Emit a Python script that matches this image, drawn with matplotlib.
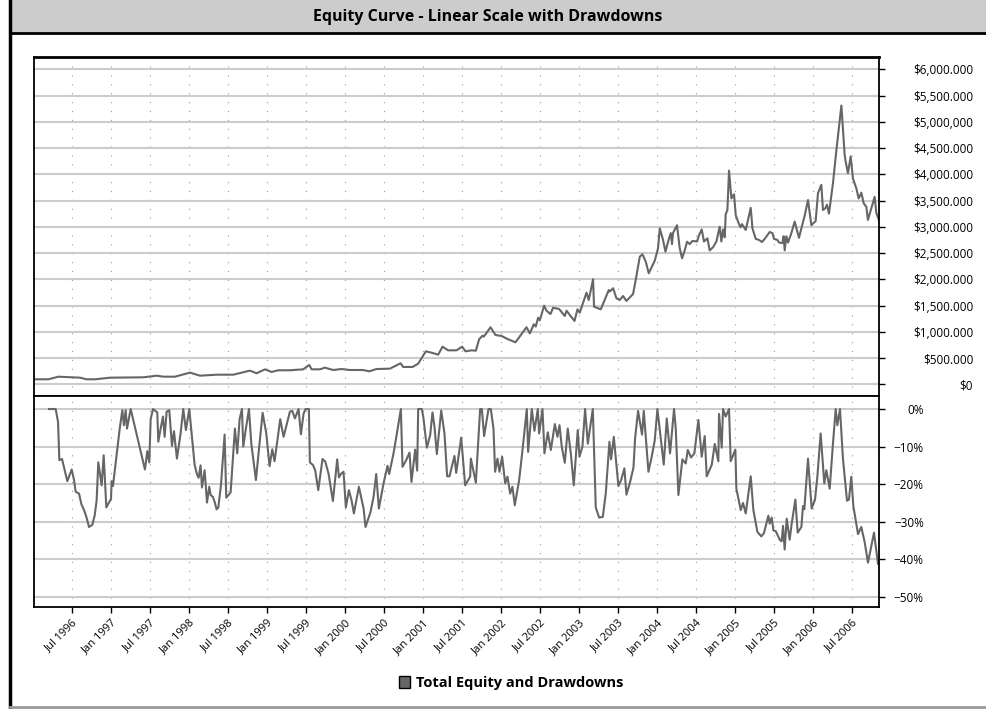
import numpy as np
import pandas as pd
import matplotlib
matplotlib.use('Agg')
import matplotlib.pyplot as plt
from matplotlib.patches import Rectangle, Patch
from matplotlib.lines import Line2D

plt.rcParams['font.family'] = ['Open Sans', 'DejaVu Sans']

# equity curve: decimal year, total equity in $ thousands
eq_t = [1996.015, 1996.199, 1996.327, 1996.605, 1996.690, 1996.797, 1996.989, 1997.416, 1997.587, 1997.672,
        1997.822, 1998.014, 1998.142, 1998.356, 1998.569, 1998.782, 1998.868, 1998.975, 1999.060, 1999.145,
        1999.295, 1999.465, 1999.542, 1999.573, 1999.679, 1999.743, 1999.850, 1999.957, 2000.064, 2000.234,
        2000.311, 2000.406, 2000.576, 2000.713, 2000.746, 2000.867, 2000.939, 2001.037, 2001.110, 2001.195,
        2001.251, 2001.323, 2001.430, 2001.502, 2001.546, 2001.623, 2001.678, 2001.720, 2001.764, 2001.780,
        2001.866, 2001.930, 2002.007, 2002.092, 2002.186, 2002.327, 2002.370, 2002.421, 2002.446, 2002.476,
        2002.498, 2002.553, 2002.583, 2002.635, 2002.668, 2002.745, 2002.818, 2002.840, 2002.942, 2002.981,
        2003.010, 2003.096, 2003.125, 2003.180, 2003.193, 2003.279, 2003.382, 2003.394, 2003.437, 2003.480,
        2003.522, 2003.565, 2003.608, 2003.693, 2003.727, 2003.779, 2003.813, 2003.856, 2003.894, 2003.971,
        2004.013, 2004.035, 2004.077, 2004.108, 2004.150, 2004.176, 2004.192, 2004.205, 2004.256, 2004.291,
        2004.321, 2004.355, 2004.385, 2004.419, 2004.454, 2004.513, 2004.538, 2004.573, 2004.602, 2004.646,
        2004.675, 2004.718, 2004.761, 2004.803, 2004.825, 2004.846, 2004.868, 2004.880, 2004.902, 2004.923,
        2004.953, 2004.987, 2005.009, 2005.038, 2005.069, 2005.089, 2005.137, 2005.166, 2005.201, 2005.223,
        2005.265, 2005.307, 2005.345, 2005.380, 2005.444, 2005.479, 2005.499, 2005.543, 2005.563, 2005.607,
        2005.623, 2005.636, 2005.658, 2005.679, 2005.722, 2005.764, 2005.819, 2005.892, 2005.935, 2005.978,
        2006.033, 2006.063, 2006.106, 2006.127, 2006.161, 2006.178, 2006.204, 2006.255, 2006.299, 2006.363,
        2006.405, 2006.418, 2006.447, 2006.482, 2006.511, 2006.555, 2006.584, 2006.619, 2006.648, 2006.683,
        2006.703, 2006.789, 2006.811, 2006.844]
eq_k = [95, 95, 145, 126, 95, 95, 126, 133, 164, 145,
        145, 222, 164, 183, 183, 260, 210, 285, 235, 267,
        267, 285, 368, 285, 285, 317, 272, 291, 272, 272,
        247, 291, 298, 400, 330, 330, 393, 628, 602, 564,
        716, 647, 647, 716, 628, 647, 640, 857, 926, 907,
        1086, 939, 920, 857, 800, 1086, 971, 1143, 1100, 1269,
        1220, 1497, 1402, 1339, 1459, 1434, 1301, 1402, 1206, 1428,
        1364, 1745, 1605, 2000, 1478, 1428, 1796, 1765, 1829, 1638,
        1606, 1682, 1587, 1720, 1987, 2430, 2476, 2335, 2114, 2355,
        2590, 2970, 2750, 2526, 2760, 2880, 2670, 2880, 3030, 2590,
        2400, 2550, 2716, 2670, 2730, 2720, 2840, 2950, 2720, 2780,
        2550, 2610, 2720, 3000, 2720, 2950, 2800, 3240, 3320, 4070,
        3540, 3620, 3220, 3100, 2990, 3050, 2940, 3130, 3360, 2970,
        2770, 2750, 2710, 2770, 2900, 2880, 2770, 2750, 2700, 2690,
        2820, 2550, 2820, 2700, 2880, 3100, 2790, 3210, 3510, 3030,
        3110, 3640, 3800, 3320, 3360, 3420, 3250, 3830, 4460, 5310,
        4370, 4240, 4020, 4340, 3920, 3730, 3540, 3650, 3450, 3380,
        3130, 3570, 3260, 3130]

# drawdown: decimal year, percent below running peak
dd_t = [1996.207, 1996.293, 1996.323, 1996.340, 1996.374, 1996.442, 1996.498, 1996.528, 1996.549, 1996.592,
        1996.622, 1996.656, 1996.686, 1996.720, 1996.763, 1996.793, 1996.818, 1996.839, 1996.882, 1996.908,
        1996.942, 1997.002, 1997.010, 1997.027, 1997.113, 1997.147, 1997.168, 1997.190, 1997.207, 1997.254,
        1997.437, 1997.467, 1997.493, 1997.510, 1997.540, 1997.595, 1997.608, 1997.638, 1997.668, 1997.689,
        1997.715, 1997.749, 1997.783, 1997.809, 1997.847, 1997.894, 1997.928, 1997.962, 1998.005, 1998.044,
        1998.074, 1998.103, 1998.125, 1998.150, 1998.168, 1998.202, 1998.232, 1998.261, 1998.279, 1998.308,
        1998.330, 1998.355, 1998.377, 1998.411, 1998.458, 1998.479, 1998.535, 1998.590, 1998.620, 1998.650,
        1998.680, 1998.697, 1998.731, 1998.770, 1998.800, 1998.859, 1998.945, 1998.992, 1999.034, 1999.069,
        1999.098, 1999.171, 1999.214, 1999.252, 1999.295, 1999.325, 1999.359, 1999.406, 1999.436, 1999.470,
        1999.496, 1999.538, 1999.551, 1999.590, 1999.619, 1999.658, 1999.713, 1999.748, 1999.790, 1999.846,
        1999.901, 1999.923, 1999.952, 1999.982, 2000.012, 2000.051, 2000.085, 2000.115, 2000.179, 2000.239,
        2000.264, 2000.328, 2000.367, 2000.401, 2000.435, 2000.495, 2000.546, 2000.567, 2000.623, 2000.666,
        2000.717, 2000.738, 2000.785, 2000.828, 2000.853, 2000.900, 2000.926, 2000.939, 2000.986, 2001.007,
        2001.050, 2001.093, 2001.122, 2001.148, 2001.178, 2001.234, 2001.276, 2001.310, 2001.340, 2001.404,
        2001.426, 2001.490, 2001.541, 2001.605, 2001.614, 2001.678, 2001.733, 2001.755, 2001.784, 2001.840,
        2001.870, 2001.904, 2001.925, 2001.955, 2001.981, 2002.015, 2002.054, 2002.083, 2002.118, 2002.147,
        2002.177, 2002.233, 2002.276, 2002.331, 2002.348, 2002.395, 2002.429, 2002.472, 2002.489, 2002.532,
        2002.557, 2002.600, 2002.639, 2002.690, 2002.724, 2002.750, 2002.779, 2002.818, 2002.856, 2002.895,
        2002.933, 2002.984, 2003.006, 2003.044, 2003.078, 2003.113, 2003.177, 2003.215, 2003.258, 2003.305,
        2003.343, 2003.390, 2003.411, 2003.446, 2003.505, 2003.540, 2003.582, 2003.608, 2003.655, 2003.698,
        2003.719, 2003.757, 2003.808, 2003.830, 2003.890, 2003.932, 2003.971, 2004.005, 2004.086, 2004.125,
        2004.167, 2004.218, 2004.240, 2004.274, 2004.325, 2004.368, 2004.394, 2004.436, 2004.479, 2004.530,
        2004.573, 2004.611, 2004.637, 2004.701, 2004.740, 2004.786, 2004.795, 2004.829, 2004.846, 2004.880,
        2004.923, 2004.944, 2005.004, 2005.017, 2005.073, 2005.102, 2005.137, 2005.201, 2005.235, 2005.286,
        2005.337, 2005.371, 2005.427, 2005.444, 2005.470, 2005.491, 2005.521, 2005.576, 2005.598, 2005.615,
        2005.636, 2005.662, 2005.700, 2005.726, 2005.773, 2005.803, 2005.850, 2005.871, 2005.888, 2005.935,
        2005.982, 2006.025, 2006.055, 2006.097, 2006.144, 2006.170, 2006.213, 2006.255, 2006.290, 2006.311,
        2006.345, 2006.383, 2006.435, 2006.460, 2006.490, 2006.516, 2006.576, 2006.618, 2006.661, 2006.704,
        2006.781, 2006.832]
dd_pct = [0, 0, -3.4, -13.6, -13.3, -19.2, -16.1, -18.9, -22.0, -22.5,
          -25.3, -26.9, -28.7, -31.4, -30.8, -28.3, -24.3, -14.2, -20.3, -12.3,
          -26.2, -23.9, -19.2, -20.5, -5.3, -0.3, -4.3, -0.3, -5.2, 0,
          -16.1, -11.2, -14.2, -2.7, 0, -0.9, -8.7, -5.2, -2.0, -7.4,
          -0.7, -0.3, -9.8, -5.9, -13.2, -6.5, 0, -5.6, 0, -8.3,
          -14.9, -17.3, -18.3, -15.0, -20.9, -16.3, -24.9, -20.7, -22.9, -23.4,
          -24.7, -26.7, -26.2, -20.3, -6.8, -23.6, -22.2, -5.2, -11.8, -2.7,
          0, -10.0, -5.2, 0, -9.2, -18.9, -1.0, -6.5, -15.2, -10.7,
          -13.9, -2.7, -7.4, -4.3, -0.7, -0.5, -2.5, 0, -6.7, -1.2,
          0, 0, -14.2, -14.9, -16.3, -21.6, -13.3, -14.0, -17.2, -24.5,
          -13.4, -18.2, -17.2, -16.7, -26.2, -21.6, -24.3, -27.8, -20.7, -26.5,
          -31.4, -27.4, -23.4, -17.3, -26.5, -19.8, -15.1, -17.3, -11.8, -6.5,
          0, -15.4, -13.6, -11.6, -19.4, -10.8, -16.4, 0, 0, -2.5,
          -10.3, -6.9, -0.9, -4.7, -12.0, -0.4, -6.5, -17.9, -17.9, -12.5,
          -17.0, -7.6, -20.3, -18.0, -13.2, -19.6, 0, 0, -7.2, 0,
          0, -5.2, -16.7, -13.2, -16.7, -12.7, -19.8, -18.0, -22.5, -20.7,
          -25.6, -18.9, -10.9, 0, -11.4, 0, -5.8, 0, -6.5, 0,
          -11.8, -6.2, -10.9, -4.0, -7.4, -4.3, -10.0, -14.3, -5.2, -11.8,
          -20.3, -5.6, -12.7, -10.0, 0, -9.2, 0, -26.2, -28.9, -28.7,
          -22.5, -8.7, -13.4, -7.4, -20.5, -18.9, -15.8, -22.8, -19.4, -15.6,
          -7.8, -0.5, -6.8, -0.5, -16.7, -12.7, -8.3, 0, -14.8, -2.5,
          -11.8, 0, -5.2, -22.9, -13.4, -14.5, -10.9, -12.9, -11.8, -2.9,
          -12.7, -7.2, -17.9, -14.9, -9.3, -13.9, -1.3, -10.3, 0, -2.0,
          0, -13.9, -10.8, -21.2, -26.9, -25.0, -27.8, -17.9, -26.9, -32.7,
          -33.9, -33.0, -28.4, -30.5, -28.9, -32.3, -32.5, -34.9, -35.2, -31.1,
          -37.4, -29.2, -34.8, -30.5, -24.1, -32.9, -31.4, -25.8, -26.7, -13.2,
          -26.5, -24.1, -18.0, -6.5, -19.8, -16.3, -21.2, -9.2, 0, -4.3,
          0, -13.2, -24.4, -24.1, -18.0, -25.8, -33.3, -31.4, -35.4, -40.9,
          -32.9, -41.2]

eq_ticks = list(range(0, 6500000, 500000))
eq_labels = ['$0', '$500.000', '$1,000.000', '$1,500.000', '$2,000.000', '$2,500.000', '$3,000.000',
             '$3,500.000', '$4,000.000', '$4,500.000', '$5,000,000', '$5,500.000', '$6,000.000']
dd_ticks = [0, -10, -20, -30, -40, -50]
dd_labels = ['0%', '\u221210%', '\u221220%', '\u221230%', '\u221240%', '\u221250%']
x_ticks = pd.date_range('1996-07-01', '2006-07-01', freq='6MS')
x_labels = [d.strftime('%b %Y') for d in x_ticks]

title = 'Equity Curve - Linear Scale with Drawdowns'
series_name = 'Total Equity and Drawdowns'
line_color = '#666666'


def to_dates(t):
    t = np.asarray(t, dtype=float)
    return pd.Timestamp('1996-01-01') + pd.to_timedelta((t - 1996) * 365.25, unit='D')


W, H = 986, 709
fig = plt.figure(figsize=(W / 100, H / 100), dpi=100)

# frame decorations
fig.patches.append(Rectangle((10 / W, 1 - 33 / H), 1 - 10 / W, 33 / H, transform=fig.transFigure,
                             facecolor='#cccccc', edgecolor='none', zorder=0))
fig.add_artist(Line2D([10 / W, 1], [1 - 33 / H, 1 - 33 / H], color='black', lw=2))
fig.add_artist(Line2D([10 / W, 10 / W], [0, 1], color='black', lw=2.5))
fig.add_artist(Line2D([10 / W, 1], [2 / H, 2 / H], color='#999999', lw=2))
fig.text(0.495, 1 - 17 / H, title, ha='center', va='center', fontsize=11.5, fontweight='bold')

left, right = 34 / W, 879 / W
ax1 = fig.add_axes([left, 1 - 396 / H, right - left, 339 / H])
ax2 = fig.add_axes([left, 1 - 607 / H, right - left, 211 / H], sharex=ax1)

ax1.plot(to_dates(eq_t), np.array(eq_k) * 1000, color=line_color, lw=1.5)
ax2.plot(to_dates(dd_t), dd_pct, color=line_color, lw=1.5)

xlim = to_dates([1996.015, 2006.845])
ax1.set_xlim(xlim[0], xlim[1])
ax1.set_ylim(-223000, 6234000)
ax2.set_ylim(-52.7, 3.47)

for ax in (ax1, ax2):
    ax.set_axisbelow(True)
    ax.yaxis.grid(True, color='#cccccc', lw=1.5)
    ax.xaxis.grid(True, color='#999999', lw=0.8, ls=(0, (1, 7)))
    for s in ax.spines.values():
        s.set_linewidth(1.3)
        s.set_color('black')
    ax.yaxis.tick_right()

ax1.spines['top'].set_linewidth(2)

ax1.set_xticks(x_ticks)
ax1.tick_params(axis='x', length=0, labelbottom=False)
ax1.set_yticks(eq_ticks)
ax1.set_yticklabels(eq_labels, ha='right')
ax1.tick_params(axis='y', length=4.3, width=1, pad=63.5, labelsize=8.5)

ax2.set_yticks(dd_ticks)
ax2.set_yticklabels(dd_labels, ha='right')
ax2.tick_params(axis='y', length=4.3, width=1, pad=28, labelsize=8.5)
ax2.set_xticks(x_ticks)
ax2.set_xticklabels(x_labels, rotation=45, ha='right', rotation_mode='anchor')
ax2.tick_params(axis='x', length=4.3, width=1, pad=3, labelsize=8)

fig.legend(handles=[Patch(facecolor=line_color, edgecolor='black', lw=1, label=series_name)],
           loc='center', bbox_to_anchor=(511 / W, 1 - 683 / H), frameon=False,
           prop={'weight': 'bold', 'size': 10.5}, handlelength=0.8, handleheight=0.8, handletextpad=0.4)

fig.savefig('out.png', dpi=100)
